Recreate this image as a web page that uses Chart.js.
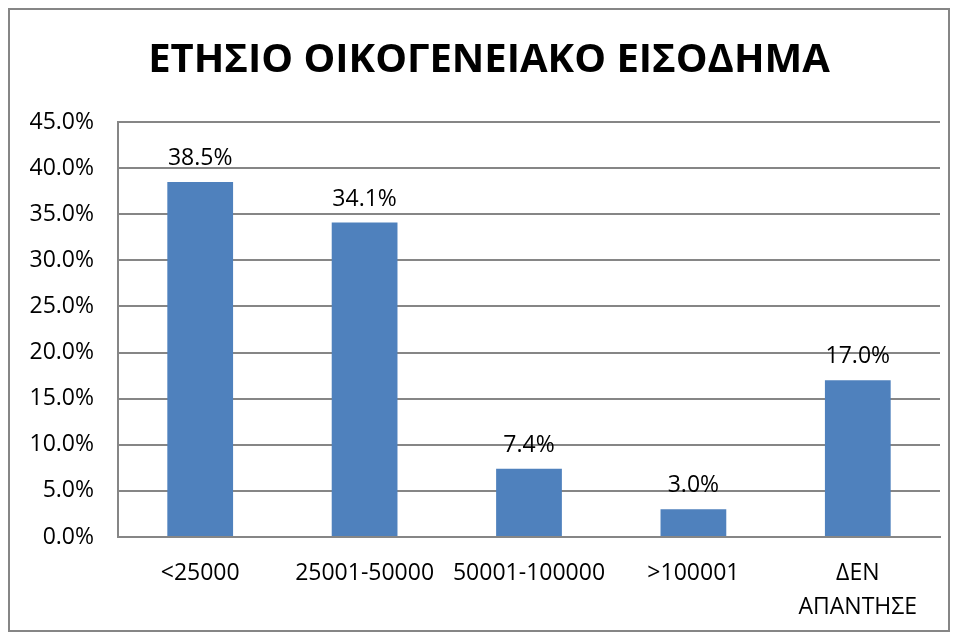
<!DOCTYPE html>
<html>
<head>
<meta charset="utf-8">
<script src="https://cdn.jsdelivr.net/npm/chart.js@4"></script>
<style>
  body { margin: 0; background: #fff; }
  #wrap { position: relative; width: 959px; height: 635px; }
  #frame { position: absolute; left: 8px; top: 8px; width: 938px; height: 620px;
           border: 2px solid #868686; pointer-events: none; }
</style>
</head>
<body>
<div id="wrap">
  <canvas id="income-chart" width="959" height="635"></canvas>
  <div id="frame"></div>
</div>
<script>
const incomeCanvas = document.getElementById("income-chart");

// data
const categories = ["<25000", "25001-50000", "50001-100000", ">100001", ["ΔΕΝ", "ΑΠΑΝΤΗΣΕ"]];
const shares = [38.5, 34.1, 7.4, 3.0, 17.0];
const chartTitle = "ΕΤΗΣΙΟ ΟΙΚΟΓΕΝΕΙΑΚΟ ΕΙΣΟΔΗΜΑ";

const font = "'Open Sans', 'Noto Sans', sans-serif";

// value labels over each bar, and the title (centred a bit right of the canvas middle)
const barLabels = {
    id: 'barLabels',
    afterDatasetsDraw(chart) {
        const ctx = chart.ctx;
        const meta = chart.getDatasetMeta(0);
        ctx.save();
        ctx.font = "23px " + font;
        ctx.fillStyle = '#000';
        ctx.textAlign = 'center';
        ctx.textBaseline = 'bottom';
        meta.data.forEach((bar, i) => {
            ctx.fillText(shares[i].toFixed(1) + '%', bar.x, bar.y - 12);
        });
        ctx.font = "bold 40px " + font;
        ctx.textBaseline = 'middle';
        ctx.fillText(chartTitle, (chart.chartArea.right + 38) / 2, 61);
        ctx.restore();
    }
};

let incomeChart = new Chart(incomeCanvas, {
    type: 'bar',
    data: {
        labels: categories,
        datasets: [{
            data: shares,
            backgroundColor: '#4F81BD',
            categoryPercentage: 1,
            barPercentage: 0.4
        }]
    },
    options: {
        responsive: false,
        animation: false,
        layout: {
            padding: { top: 122, right: 19, bottom: 8, left: 0 }
        },
        scales: {
            x: {
                grid: { display: false, drawTicks: false },
                border: { color: '#868686', width: 2 },
                ticks: {
                    color: '#000',
                    padding: 20,
                    maxRotation: 0,
                    font: { family: font, size: 23, lineHeight: 1.45 }
                },
                afterFit(axis) { axis.height = 90; }
            },
            y: {
                min: 0,
                max: 45,
                grid: { color: '#868686', lineWidth: 2, drawTicks: false },
                border: { color: '#868686', width: 2 },
                ticks: {
                    stepSize: 5,
                    color: '#000',
                    padding: 24,
                    font: { family: font, size: 23 },
                    callback: v => v.toFixed(1) + '%'
                },
                afterFit(axis) { axis.width = 118; }
            }
        },
        plugins: {
            legend: { display: false },
            tooltip: { enabled: false },
            title: { display: false }
        }
    },
    plugins: [barLabels]
});
</script>
</body>
</html>
